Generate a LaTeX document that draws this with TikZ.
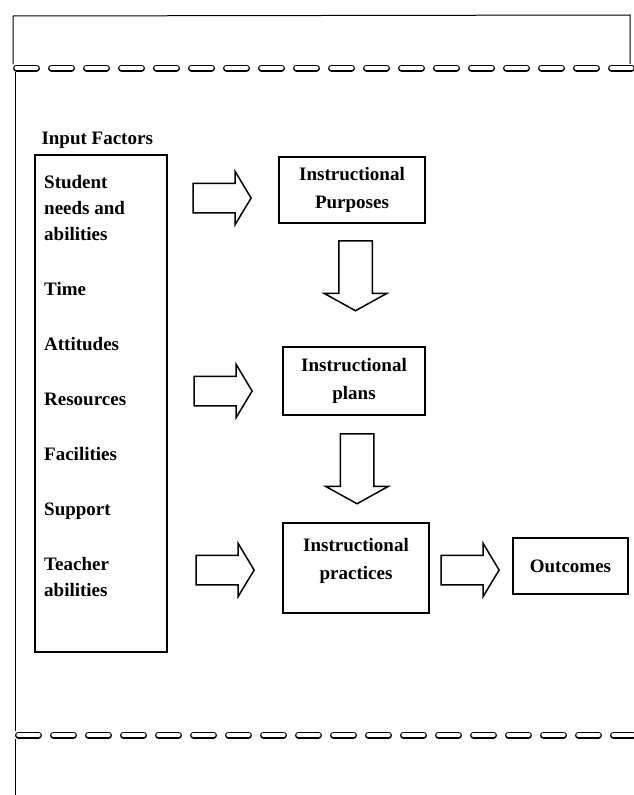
\documentclass[tikz,border=0pt]{standalone}
\usepackage{fontspec}
\setmainfont{Liberation Serif}
\usetikzlibrary{shapes.arrows}

\tikzset{
  stagebox/.style={draw, line width=1.6pt, align=center, inner sep=0pt,
    font=\fontsize{19}{28}\selectfont\bfseries},
  fatarrow/.style={single arrow, draw, line width=1.5pt, inner xsep=0pt, inner ysep=14pt,
    minimum height=58pt, single arrow head extend=12pt,
    single arrow tip angle=118},
  downarrow/.style={fatarrow, rotate=-90, minimum height=70pt, inner ysep=16pt,
    single arrow head extend=14.5pt, single arrow tip angle=122},
  tearline/.style={line width=7pt, line cap=round, dash pattern=on 20pt off 15pt},
}

\begin{document}
\begin{tikzpicture}[x=1pt,y=-1pt]
    \useasboundingbox (0,0) rectangle (633,795);
    \fill[white] (0,0) rectangle (633,795);
    %% Draw the frame
    \draw[line width=1pt] (13,64) -- (13,16) -- (630,15) -- (630,64);
    \draw[line width=1pt] (15,72) -- (15,731);
    \draw[line width=1pt] (15,739) -- (15,795);
    \draw[tearline] (16.5,68) -- (633,68);
    \draw[tearline, white, line width=4.4pt] (16.5,68) -- (633,68);
    \draw[tearline] (18.5,735) -- (633,735);
    \draw[tearline, white, line width=4.4pt] (18.5,735) -- (633,735);
    %% Draw the input factors
    \node[font=\fontsize{19}{26}\selectfont\bfseries, anchor=base west] (title) at (38,144) {Input Factors};
    \node[stagebox, minimum width=132pt, minimum height=497pt] (inbox) at (101,403.5) {};
    \node[font=\fontsize{19}{26}\selectfont\bfseries, align=left, anchor=north west, inner sep=0pt] (factors) at (44,175)
      {Student\\needs and\\abilities\\[29pt]Time\\[29pt]Attitudes\\[29pt]Resources\\[29pt]Facilities\\[29pt]Support\\[29pt]Teacher\\abilities};
    %% Draw the stages
    \node[stagebox, minimum width=146pt, minimum height=66pt] (purpose) at (352,190) {Instructional\\Purposes};
    \node[stagebox, minimum width=142pt, minimum height=68pt] (plans) at (354,381) {Instructional\\plans};
    \node[stagebox, minimum width=146pt, minimum height=90pt, text depth=19pt] (practice) at (356,568) {Instructional\\practices};
    \node[stagebox, minimum width=115pt, minimum height=56pt] (outcome) at (570.5,566) {Outcomes};
    %% Draw the arrows
    \node[fatarrow, anchor=tip] (a1) at (252,198) {};
    \node[fatarrow, anchor=tip] (a2) at (253,391) {};
    \node[fatarrow, anchor=tip] (a3) at (255,570) {};
    \node[fatarrow, anchor=tip] (a4) at (500,570) {};
    \node[downarrow, anchor=tail] (d1) at (355.5,240) {};
    \node[downarrow, anchor=tail] (d2) at (357,433) {};
\end{tikzpicture}
\end{document}
